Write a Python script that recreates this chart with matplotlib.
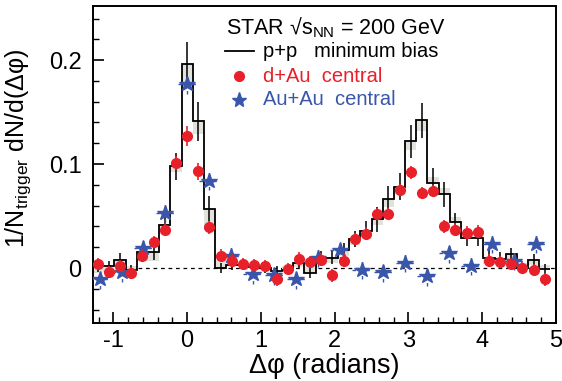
import matplotlib
matplotlib.use('Agg')
import matplotlib.pyplot as plt
import numpy as np
from matplotlib.ticker import MultipleLocator, FuncFormatter

plt.rcParams['font.family'] = ['Liberation Sans', 'DejaVu Sans']
plt.rcParams['mathtext.default'] = 'regular'
plt.rcParams['axes.unicode_minus'] = False

## bin index for p+p / d+Au (narrow bins) and Au+Au (wide bins)
bin_w = 0.1516
bin_w_auau = 0.2958
k = np.arange(-8, 33)
j = np.arange(-4, 17)

## p+p minimum bias (histogram)
pp = [0.002, 0.002, 0.008, -0.002, 0.015, 0.015, 0.041, 0.098,
      0.196, 0.141, 0.057, 0.000, 0.003, 0.003, 0.001, 0.000, -0.003, -0.002,
      0.005, -0.005, 0.010, 0.010, 0.017, 0.028, 0.036, 0.047, 0.066, 0.078,
      0.122, 0.142, 0.082, 0.071, 0.044, 0.029, 0.029, 0.010, 0.009, 0.013,
      0.000, 0.008, -0.001]
pp_err = [0.006, 0.005, 0.006, 0.005, 0.006, 0.007, 0.008, 0.013,
          0.021, 0.019, 0.012, 0.005, 0.005, 0.005, 0.005, 0.005, 0.005, 0.005,
          0.005, 0.005, 0.006, 0.006, 0.007, 0.008, 0.009, 0.012, 0.013, 0.013,
          0.016, 0.017, 0.014, 0.012, 0.009, 0.008, 0.008, 0.007, 0.006, 0.006,
          0.005, 0.005, 0.005]
# systematic band (offset from histogram)
pp_sys = [-0.007, -0.006, -0.006, 0.004, -0.008, -0.008, -0.008, -0.006,
          -0.020, -0.012, -0.020, 0.011, 0.004, 0.003, 0.003, 0.003, -0.004, 0.004,
          -0.004, 0.005, -0.006, -0.005, -0.005, -0.006, -0.006, -0.006, -0.007, -0.007,
          -0.008, -0.010, 0.006, 0.006, 0.005, 0.005, 0.005, -0.006, -0.006, -0.006,
          0.005, -0.005, 0.004]

## d+Au central
dau = [0.004, -0.004, 0.002, -0.005, 0.012, 0.025, 0.037, 0.101,
       0.127, 0.093, 0.039, 0.012, 0.007, 0.004, 0.003, 0.002, -0.011, -0.001,
       0.009, 0.006, 0.008, -0.007, 0.007, 0.028, 0.033, 0.052, 0.052, 0.075,
       0.092, 0.072, 0.074, 0.040, 0.037, 0.034, 0.035, 0.007, 0.006, 0.004,
       0.000, -0.002, -0.011]
dau_err = [0.006] * 7 + [0.007, 0.010, 0.008] + [0.006] * 31

## Au+Au central
auau = [-0.011, -0.004, 0.019, 0.053, 0.177, 0.084, 0.012, -0.006, -0.007,
        -0.011, 0.010, 0.017, -0.002, -0.004, 0.005, -0.008, 0.014, 0.002,
        0.023, 0.007, 0.023]
auau_err = [0.009] * 4 + [0.010] + [0.009] * 16

red = '#e8202a'
blue = '#3a56ab'

x = k * bin_w
edges = np.append(x - bin_w / 2, x[-1] + bin_w / 2)
x_auau = j * bin_w_auau

fig = plt.figure(figsize=(5.62, 3.81), dpi=100)
ax = fig.add_axes([0.165, 0.152, 0.824, 0.832])

ax.axhline(0, color='k', lw=0.9, ls=(0, (3, 3)), zorder=1)

# gray boxes + histogram
ax.bar(x, pp_sys, bottom=pp, width=bin_w, color='#e2e2dc', edgecolor='none', zorder=2)
ax.stairs(pp, edges, baseline=None, color='k', lw=1.3, zorder=3)
ax.errorbar(x, pp, yerr=pp_err, fmt='none', ecolor='k', elinewidth=1.1, zorder=3)

# d+Au
ax.errorbar(x, dau, yerr=dau_err, fmt='o', color=red, ms=7, mec=red,
            elinewidth=1.2, zorder=5)

# Au+Au
eb = ax.errorbar(x_auau, auau, xerr=0.13, yerr=auau_err, fmt='*', color=blue, ms=11.5,
                 mec=blue, elinewidth=1.0, zorder=4)
for c in eb[2]:
    c.set_linestyle((0, (2.5, 2.5)))

ax.set_xlim(-1.28, 5.0)
ax.set_ylim(-0.053, 0.252)
ax.xaxis.set_major_locator(MultipleLocator(1))
ax.xaxis.set_minor_locator(MultipleLocator(0.2))
ax.yaxis.set_major_locator(MultipleLocator(0.1))
ax.yaxis.set_minor_locator(MultipleLocator(0.02))
ax.yaxis.set_major_formatter(FuncFormatter(lambda v, p: '%g' % round(v, 2)))
ax.tick_params(which='both', direction='in', top=False, right=False, labelsize=17)
ax.tick_params(which='major', length=8, width=1.2)
ax.tick_params(which='minor', length=4.5, width=1.0)
ax.tick_params(axis='x', pad=5)
ax.tick_params(axis='y', pad=8)
for s in ax.spines.values():
    s.set_linewidth(1.4)

ax.set_xlabel('Δφ (radians)', fontsize=19.5, labelpad=1)
ax.set_ylabel('1/N$_{trigger}$ dN/d(Δφ)', fontsize=18)
ax.yaxis.set_label_coords(-0.128, 0.55)

## legend
ax.text(0.288, 0.931, 'STAR √s$_{NN}$ = 200 GeV', transform=ax.transAxes,
        fontsize=15.5, va='center', ha='left')
ax.plot([0.286, 0.348], [0.858, 0.858], color='k', lw=1.3, transform=ax.transAxes)
ax.text(0.368, 0.858, 'p+p   minimum bias', transform=ax.transAxes, fontsize=14.5,
        va='center', ha='left')
ax.plot([0.316], [0.779], 'o', color=red, ms=7, transform=ax.transAxes)
ax.text(0.368, 0.779, 'd+Au  central', transform=ax.transAxes, fontsize=14.5,
        va='center', ha='left', color=red)
ax.plot([0.316], [0.705], '*', color=blue, ms=11, transform=ax.transAxes)
ax.text(0.368, 0.705, 'Au+Au  central', transform=ax.transAxes, fontsize=14.5,
        va='center', ha='left', color=blue)

fig.savefig('out.png', dpi=100)
